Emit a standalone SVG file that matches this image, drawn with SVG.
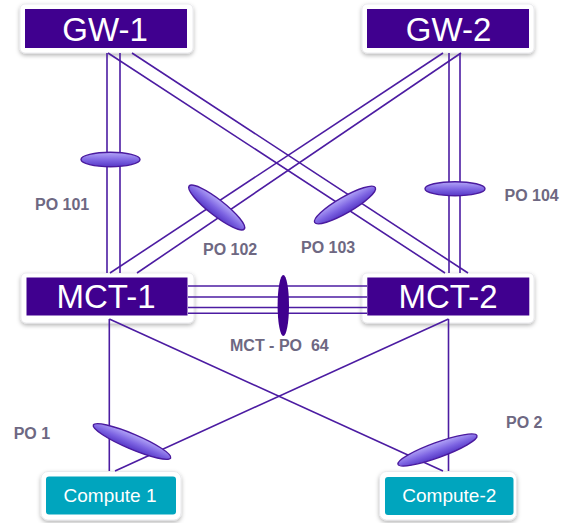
<svg xmlns="http://www.w3.org/2000/svg" width="565" height="523" viewBox="0 0 565 523">
<style>
.outer{fill:#ffffff;stroke:#e6e6ea;stroke-width:0.8;filter:url(#sh)}
.box{fill:#40008f}
.cbox{fill:#00a5be}
.big{font-family:"Liberation Sans",Arial,sans-serif;font-size:33px;fill:#ffffff;text-anchor:middle}
.ctext{font-family:"Liberation Sans",Arial,sans-serif;font-size:19px;fill:#ffffff;text-anchor:middle}
.lbl{font-family:"Liberation Sans",Arial,sans-serif;font-size:16px;font-weight:bold;fill:#6e6882}
.ln{stroke:#4c1ca2;stroke-width:1.6;fill:none}
.lag{fill:url(#lagg);stroke:#4a1a9e;stroke-width:1.4}
</style>
<defs>
<filter id="sh" x="-10%" y="-20%" width="120%" height="150%">
<feDropShadow dx="0" dy="2" stdDeviation="2" flood-color="#000000" flood-opacity="0.3"/>
</filter>
<linearGradient id="lagg" x1="0" y1="0" x2="0" y2="1">
<stop offset="0" stop-color="#b3a6f8"/>
<stop offset="0.55" stop-color="#7d64e2"/>
<stop offset="1" stop-color="#5638c6"/>
</linearGradient>
</defs>

<g id="GW-1">
<rect class="outer" x="20" y="4" width="173" height="49" rx="5"/>
<rect class="box" x="25" y="9" width="162" height="39"/>
<text class="big" x="105" y="41">GW-1</text>
</g>
<g id="GW-2">
<rect class="outer" x="362" y="4" width="172" height="49" rx="5"/>
<rect class="box" x="367" y="9" width="162" height="39"/>
<text class="big" x="448.5" y="41">GW-2</text>
</g>
<g id="MCT-1">
<rect class="outer" x="21" y="273" width="173" height="50" rx="5"/>
<rect class="box" x="26.5" y="277.5" width="161" height="38"/>
<text class="big" x="106" y="307.5">MCT-1</text>
</g>
<g id="MCT-2">
<rect class="outer" x="362" y="273" width="172" height="50" rx="5"/>
<rect class="box" x="367.3" y="277.5" width="162" height="38"/>
<text class="big" x="448" y="307.5">MCT-2</text>
</g>
<g id="Compute-1">
<rect class="outer" x="41" y="471.5" width="140" height="48.5" rx="7"/>
<rect class="cbox" x="46" y="476.5" width="130" height="38" rx="3"/>
<text class="ctext" x="110" y="502.3">Compute 1</text>
</g>
<g id="Compute-2">
<rect class="outer" x="379.5" y="471.5" width="137" height="48.5" rx="7"/>
<rect class="cbox" x="385" y="477" width="128.5" height="38" rx="3"/>
<text class="ctext" x="449.3" y="502.3">Compute-2</text>
</g>

<g id="connectors">
<line class="ln" x1="107" y1="53" x2="107" y2="273"/>
<line class="ln" x1="120" y1="53" x2="120" y2="273"/>
<line class="ln" x1="449" y1="53" x2="449" y2="273"/>
<line class="ln" x1="460" y1="53" x2="460" y2="273"/>
<line class="ln" x1="108" y1="53" x2="445" y2="273"/>
<line class="ln" x1="132" y1="53" x2="468" y2="273"/>
<line class="ln" x1="443" y1="53" x2="110" y2="273"/>
<line class="ln" x1="461" y1="53" x2="137" y2="273"/>
<line class="ln" x1="188" y1="286" x2="367" y2="286"/>
<line class="ln" x1="188" y1="297" x2="367" y2="297"/>
<line class="ln" x1="188" y1="307.5" x2="367" y2="307.5"/>
<line class="ln" x1="188" y1="313.3" x2="367" y2="313.3"/>
<line class="ln" x1="109.3" y1="319" x2="109.3" y2="471"/>
<line class="ln" x1="109.3" y1="319" x2="443" y2="471"/>
<line class="ln" x1="448.5" y1="319" x2="448.5" y2="471"/>
<line class="ln" x1="448.5" y1="319" x2="115" y2="471"/>
</g>

<g id="PO-101">
<ellipse class="lag" cx="110.5" cy="159.5" rx="29.5" ry="7.2"/>
<text class="lbl" x="35" y="210">PO 101</text>
</g>
<g id="PO-102">
<ellipse class="lag" cx="0" cy="0" rx="35" ry="8" transform="translate(216.7 207.5) rotate(38)"/>
<text class="lbl" x="203" y="255">PO 102</text>
</g>
<g id="PO-103">
<ellipse class="lag" cx="0" cy="0" rx="35" ry="8" transform="translate(345 205) rotate(-30)"/>
<text class="lbl" x="301" y="253.3">PO 103</text>
</g>
<g id="PO-104">
<ellipse class="lag" cx="455" cy="188.7" rx="30" ry="7"/>
<text class="lbl" x="504.5" y="201">PO 104</text>
</g>
<g id="MCT-PO-64">
<ellipse cx="283.3" cy="305.5" rx="5.7" ry="30.5" fill="#40008f"/>
<text class="lbl" x="230" y="350.7" xml:space="preserve">MCT - PO  64</text>
</g>
<g id="PO-1">
<ellipse class="lag" cx="0" cy="0" rx="42" ry="7.5" transform="translate(132 441.5) rotate(23)"/>
<text class="lbl" x="13.7" y="439">PO 1</text>
</g>
<g id="PO-2">
<ellipse class="lag" cx="0" cy="0" rx="42" ry="7.5" transform="translate(437.5 450) rotate(-20)"/>
<text class="lbl" x="506" y="427.7">PO 2</text>
</g>
</svg>
